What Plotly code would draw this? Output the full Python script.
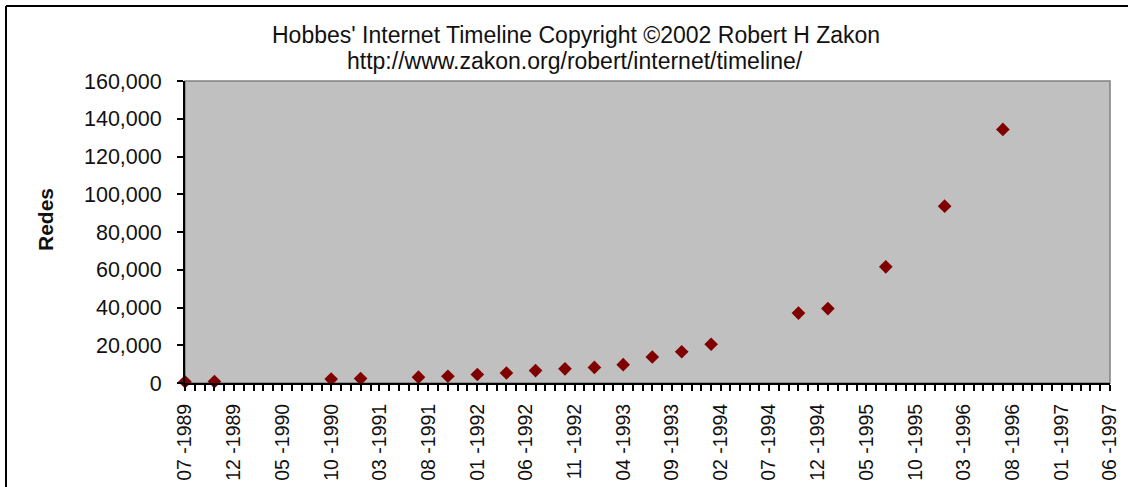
import plotly.graph_objects as go

# ---- data ----
dates = ["1989-07-01", "1989-10-01", "1990-10-01", "1991-01-01", "1991-07-01",
         "1991-10-01", "1992-01-01", "1992-04-01", "1992-07-01", "1992-10-01",
         "1993-01-01", "1993-04-01", "1993-07-01", "1993-10-01", "1994-01-01",
         "1994-10-01", "1995-01-01", "1995-07-01", "1996-01-01", "1996-07-01"]
redes = [650, 753, 2063, 2338, 3086, 3556, 4526, 5291, 6569, 7505,
         8258, 9722, 13767, 16533, 20539, 37022, 39410, 61538, 93671, 134365]

tick_dates = ["1989-07-01", "1989-12-01", "1990-05-01", "1990-10-01", "1991-03-01",
              "1991-08-01", "1992-01-01", "1992-06-01", "1992-11-01", "1993-04-01",
              "1993-09-01", "1994-02-01", "1994-07-01", "1994-12-01", "1995-05-01",
              "1995-10-01", "1996-03-01", "1996-08-01", "1997-01-01", "1997-06-01"]
tick_labels = ["07 -1989", "12 -1989", "05 -1990", "10 -1990", "03 -1991",
               "08 -1991", "01 -1992", "06 -1992", "11 -1992", "04 -1993",
               "09 -1993", "02 -1994", "07 -1994", "12 -1994", "05 -1995",
               "10 -1995", "03 -1996", "08 -1996", "01 -1997", "06 -1997"]

title_line1 = "Hobbes' Internet Timeline Copyright \u00a92002 Robert H Zakon"
title_line2 = "http://www.zakon.org/robert/internet/timeline/"
y_title = "Redes"

FONT = "Liberation Sans, Arial, sans-serif"
W, H = 1128, 487
L, R, T, B = 185, 1110, 81, 383  # plot area pixel bounds


def px_x(p):
    return (p - L) / (R - L)


def px_y(p):
    return (B - p) / (B - T)


fig = go.Figure()
fig.add_trace(go.Scatter(
    x=dates, y=redes, mode="markers",
    marker=dict(symbol="diamond", size=10.5, color="#800000",
                line=dict(width=0)),
    cliponaxis=False, showlegend=False,
))

fig.update_layout(
    width=W, height=H,
    margin=dict(l=L, r=W - R, t=T, b=H - B, pad=0, autoexpand=False),
    paper_bgcolor="white",
    plot_bgcolor="#C0C0C0",
    font=dict(family=FONT, color="#111111"),
    xaxis=dict(
        type="date",
        range=["1989-07-01", "1997-06-01"],
        tickvals=tick_dates, ticktext=tick_labels,
        tickangle=-90,
        tickfont=dict(size=19.5, family=FONT, color="#111111"),
        ticks="outside", ticklen=6, tickwidth=1.5, tickcolor="black",
        ticklabelstandoff=5,
        minor=dict(ticks="outside", dtick="M1", ticklen=6, tickwidth=1.5,
                   tickcolor="black", showgrid=False),
        showline=True, linecolor="black", linewidth=2,
        showgrid=False, zeroline=False, fixedrange=True, automargin=False,
    ),
    yaxis=dict(
        range=[0, 160000], dtick=20000, tickformat=",",
        tickfont=dict(size=21.5, family=FONT, color="#111111"),
        ticks="outside", ticklen=6, tickwidth=1.5, tickcolor="black",
        ticklabelstandoff=11,
        showline=True, linecolor="black", linewidth=2,
        showgrid=False, zeroline=False, fixedrange=True, automargin=False,
    ),
    shapes=[
        # plot-area border (gray) on top and right
        dict(type="rect", xref="paper", yref="paper", x0=0, y0=0, x1=1, y1=1,
             line=dict(color="#808080", width=1.5), layer="below"),
        # outer chart border: only top and left edges are inside the frame
        dict(type="line", xref="paper", yref="paper",
             x0=px_x(6), y0=px_y(6), x1=px_x(W + 5), y1=px_y(6),
             line=dict(color="black", width=2)),
        dict(type="line", xref="paper", yref="paper",
             x0=px_x(6), y0=px_y(6), x1=px_x(6), y1=px_y(H + 5),
             line=dict(color="black", width=2)),
    ],
    annotations=[
        dict(text=title_line1, xref="paper", yref="paper",
             x=px_x(576), y=px_y(35), xanchor="center", yanchor="middle",
             showarrow=False, font=dict(size=23, family=FONT, color="#111111")),
        dict(text=title_line2, xref="paper", yref="paper",
             x=px_x(575), y=px_y(61), xanchor="center", yanchor="middle",
             showarrow=False, font=dict(size=23, family=FONT, color="#111111")),
        dict(text="<b>" + y_title + "</b>", xref="paper", yref="paper",
             x=px_x(45), y=px_y(220), xanchor="center", yanchor="middle",
             textangle=-90, showarrow=False,
             font=dict(size=21, family=FONT, color="#111111")),
    ],
)

fig.write_html(
    "out.html",
    config={"displayModeBar": False},
    post_script="document.body.style.margin='0';document.body.style.overflow='hidden';",
)
